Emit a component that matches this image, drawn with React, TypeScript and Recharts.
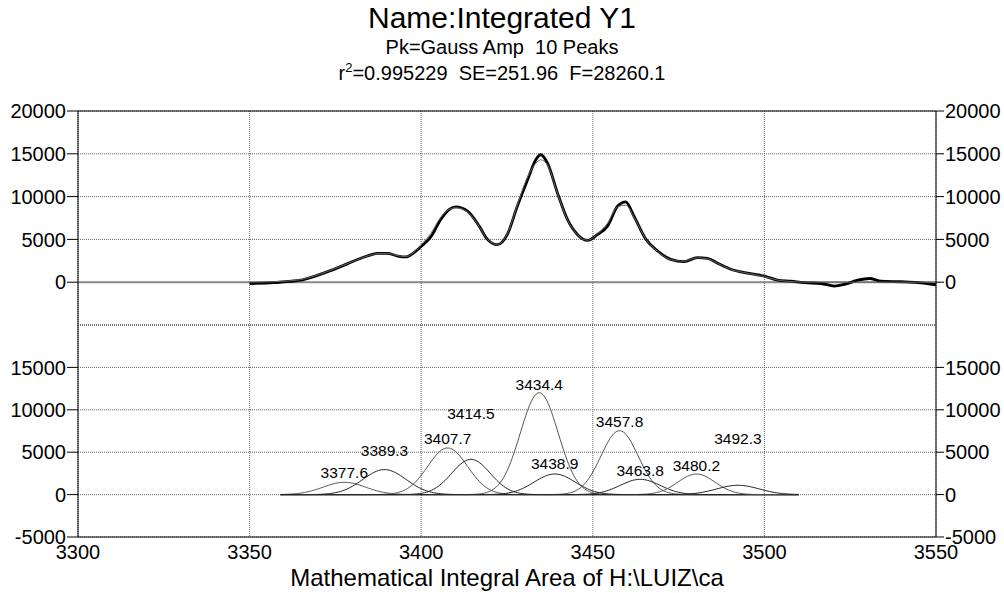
import React from 'react';
import {
  LineChart,
  Line,
  XAxis,
  YAxis,
  CartesianGrid,
  ReferenceLine,
  ReferenceDot,
} from 'recharts';

const FONT = "Arial, 'Liberation Sans', Helvetica, sans-serif";

// Axis ticks
const X_TICKS = [3300, 3350, 3400, 3450, 3500, 3550];
const TOP_Y_TICKS = [0, 5000, 10000, 15000, 20000];
const BOTTOM_Y_TICKS = [-5000, 0, 5000, 10000, 15000];

// Measured spectrum (wavenumber, integrated amplitude)
const observedX = [
  3350, 3357.1, 3364.9, 3368.7, 3372.6, 3376.5, 3380.4, 3384.3, 3387.2, 3390.1,
  3393.1, 3395.5, 3397.9, 3400.3, 3402.8, 3405.7, 3408.1, 3410.1, 3413.5, 3416.9,
  3419.3, 3422.2, 3425.1, 3428.0, 3431.0, 3433.4, 3434.8, 3436.8, 3439.7, 3442.6,
  3445.5, 3448.5, 3451.4, 3454.3, 3457.2, 3459.6, 3462.0, 3465.5, 3468.9, 3472.7,
  3476.6, 3480.5, 3483.4, 3486.4, 3490.2, 3495.1, 3500.0, 3503.8, 3507.7, 3511.6,
  3516.5, 3520.4, 3523.3, 3527.2, 3530.6, 3534.0, 3539.8, 3544.7, 3550,
];
const observedY = [
  -150, -40, 230, 660, 1200, 1820, 2480, 3060, 3370, 3370,
  3060, 2950, 3450, 4300, 5300, 7330, 8490, 8800, 8290, 6550,
  5000, 4380, 5580, 8870, 11980, 14300, 14890, 13920, 10430, 7330,
  5580, 4880, 5580, 6550, 8870, 9380, 7710, 5000, 3640, 2670,
  2400, 2870, 2790, 2210, 1510, 1050, 700, 250, 120, -50,
  -150, -450, -260, 230, 430, 120, 50, -40, -300,
];

// Fitted curve (sum of the ten peaks), same abscissae as the measured spectrum
const fittedY = [
  0, 60, 300, 700, 1230, 1850, 2480, 3050, 3350, 3380,
  3100, 2980, 3500, 4500, 5700, 7600, 8500, 8700, 8200, 6500,
  5000, 4400, 5650, 9000, 12300, 13900, 14300, 13700, 10400, 7300,
  5550, 4900, 5650, 6900, 8800, 9000, 7600, 5000, 3600, 2650,
  2450, 2850, 2750, 2200, 1500, 1050, 650, 250, 80, 10,
  0, 0, 0, 0, 0, 0, 0, 0, 0,
];

// Gaussian peak parameters
const peakCenters = [3377.6, 3389.3, 3407.7, 3414.5, 3434.4, 3438.9, 3457.8, 3463.8, 3480.2, 3492.3];
const peakAmplitudes = [1450, 2950, 5500, 4160, 12020, 2430, 7540, 1800, 2430, 1100];
const peakWidths = [6.2, 6.3, 5.8, 5.6, 5.5, 6.0, 5.4, 5.8, 5.4, 6.2];
// Heights at which each peak's position label is written
const peakLabelY = [2550, 5180, 6560, 9620, 13040, 3610, 8600, 2900, 3490, 6560];

const PEAK_RANGE = [3359, 3510];
const PEAK_STEP = 0.5;

const observedData = observedX.map((x, i) => ({ x, y: observedY[i] }));
const fittedData = observedX.map((x, i) => ({ x, y: fittedY[i] }));

const componentData: Record<string, number>[] = [];
for (let x = PEAK_RANGE[0]; x <= PEAK_RANGE[1] + 1e-9; x += PEAK_STEP) {
  const row: Record<string, number> = { x };
  peakCenters.forEach((c, i) => {
    const s = peakWidths[i];
    row['p' + i] = peakAmplitudes[i] * Math.exp(-((x - c) * (x - c)) / (2 * s * s));
  });
  componentData.push(row);
}

const W = 1004;
const H = 593;
const LEFT_AXIS_W = 78;
const RIGHT_AXIS_W = 68;
const TOP_PANEL_TOP = 111;
const SPLIT_Y = 325;
const BOTTOM_AXIS_Y = 537;

const tickStyle = { fontSize: 20, fill: '#000', fontFamily: FONT };
const gridStroke = '#666';

const layer: React.CSSProperties = { position: 'absolute', left: 0, top: 0 };

function Heading() {
  const line = (top: number, size: number, content: React.ReactNode) => (
    <div
      style={{
        position: 'absolute',
        left: 0,
        top,
        width: W,
        textAlign: 'center',
        fontSize: size,
        lineHeight: `${Math.round(size * 1.2)}px`,
        color: '#000',
        whiteSpace: 'pre',
      }}
    >
      {content}
    </div>
  );
  return (
    <>
      {line(0, 30, 'Name:Integrated Y1')}
      {line(35, 20, 'Pk=Gauss Amp  10 Peaks')}
      {line(61, 20, (
        <span>
          r<sup style={{ fontSize: 13, verticalAlign: 'super', lineHeight: 0 }}>2</sup>=0.995229  SE=251.96  F=28260.1
        </span>
      ))}
    </>
  );
}

export default function App() {
  return (
    <div style={{ position: 'absolute', left: 0, top: 0, width: W, height: H, background: '#fff', fontFamily: FONT, overflow: 'hidden' }}>
      <Heading />

      {/* Upper panel: measured spectrum and fit */}
      <div style={layer}>
        <LineChart width={W} height={H} margin={{ top: TOP_PANEL_TOP, right: 0, bottom: H - SPLIT_Y, left: 0 }}>
          <XAxis dataKey="x" type="number" domain={[3300, 3550]} ticks={X_TICKS} hide allowDataOverflow />
          <YAxis
            yAxisId="l"
            orientation="left"
            width={LEFT_AXIS_W}
            domain={[-5000, 20000]}
            ticks={TOP_Y_TICKS}
            tick={tickStyle}
            tickSize={11}
            tickMargin={1}
            axisLine={{ stroke: '#000' }}
            tickLine={{ stroke: '#000' }}
            allowDataOverflow
          />
          <YAxis
            yAxisId="r"
            orientation="right"
            width={RIGHT_AXIS_W}
            domain={[-5000, 20000]}
            ticks={TOP_Y_TICKS}
            tick={tickStyle}
            tickSize={8}
            tickMargin={1}
            axisLine={{ stroke: '#000' }}
            tickLine={{ stroke: '#000' }}
            allowDataOverflow
          />
          <CartesianGrid yAxisId="l" stroke={gridStroke} strokeDasharray="1 1" />
          <ReferenceLine yAxisId="l" y={-5000} stroke={gridStroke} strokeDasharray="1 1" />
          <ReferenceLine yAxisId="l" y={0} stroke="#8a8a8a" strokeWidth={2} />
          <ReferenceLine yAxisId="l" y={20000} stroke="#000" strokeWidth={1} />
          <Line
            yAxisId="l"
            data={observedData}
            dataKey="y"
            type="monotone"
            stroke="#000"
            strokeWidth={2.8}
            dot={false}
            isAnimationActive={false}
          />
          <Line
            yAxisId="l"
            data={fittedData}
            dataKey="y"
            type="monotone"
            stroke="#666"
            strokeWidth={1}
            dot={false}
            isAnimationActive={false}
          />
        </LineChart>
      </div>

      {/* Lower panel: individual Gaussian peaks */}
      <div style={layer}>
        <LineChart
          width={W}
          height={H}
          data={componentData}
          margin={{ top: SPLIT_Y, right: 0, bottom: 0, left: 0 }}
        >
          <XAxis
            dataKey="x"
            type="number"
            domain={[3300, 3550]}
            ticks={X_TICKS}
            height={H - BOTTOM_AXIS_Y}
            tick={tickStyle}
            tickLine={false}
            tickSize={0}
            tickMargin={8}
            axisLine={{ stroke: '#000' }}
            allowDataOverflow
          />
          <YAxis
            yAxisId="l"
            orientation="left"
            width={LEFT_AXIS_W}
            domain={[-5000, 20000]}
            ticks={BOTTOM_Y_TICKS}
            tick={tickStyle}
            tickSize={11}
            tickMargin={1}
            axisLine={{ stroke: '#000' }}
            tickLine={{ stroke: '#000' }}
            allowDataOverflow
          />
          <YAxis
            yAxisId="r"
            orientation="right"
            width={RIGHT_AXIS_W}
            domain={[-5000, 20000]}
            ticks={BOTTOM_Y_TICKS}
            tick={tickStyle}
            tickSize={8}
            tickMargin={1}
            axisLine={{ stroke: '#000' }}
            tickLine={{ stroke: '#000' }}
            allowDataOverflow
          />
          <CartesianGrid yAxisId="l" stroke={gridStroke} strokeDasharray="1 1" />
          {peakCenters.map((c, i) => (
            <Line
              key={'p' + i}
              yAxisId="l"
              dataKey={'p' + i}
              type="linear"
              stroke={i % 2 === 0 ? '#555' : '#222'}
              strokeWidth={1}
              dot={false}
              isAnimationActive={false}
            />
          ))}
          {peakCenters.map((c, i) => (
            <ReferenceDot
              key={'lbl' + i}
              yAxisId="l"
              x={c}
              y={peakLabelY[i]}
              r={0}
              fill="none"
              stroke="none"
              label={{ value: c.toFixed(1), position: 'center', fontSize: 15.5, fill: '#000', fontFamily: FONT }}
            />
          ))}
        </LineChart>
      </div>

      <div
        style={{
          position: 'absolute',
          left: LEFT_AXIS_W,
          width: W - LEFT_AXIS_W - RIGHT_AXIS_W,
          top: 564,
          textAlign: 'center',
          fontSize: 24,
          lineHeight: '28px',
          color: '#000',
        }}
      >
        Mathematical Integral Area of H:\LUIZ\ca
      </div>
    </div>
  );
}
